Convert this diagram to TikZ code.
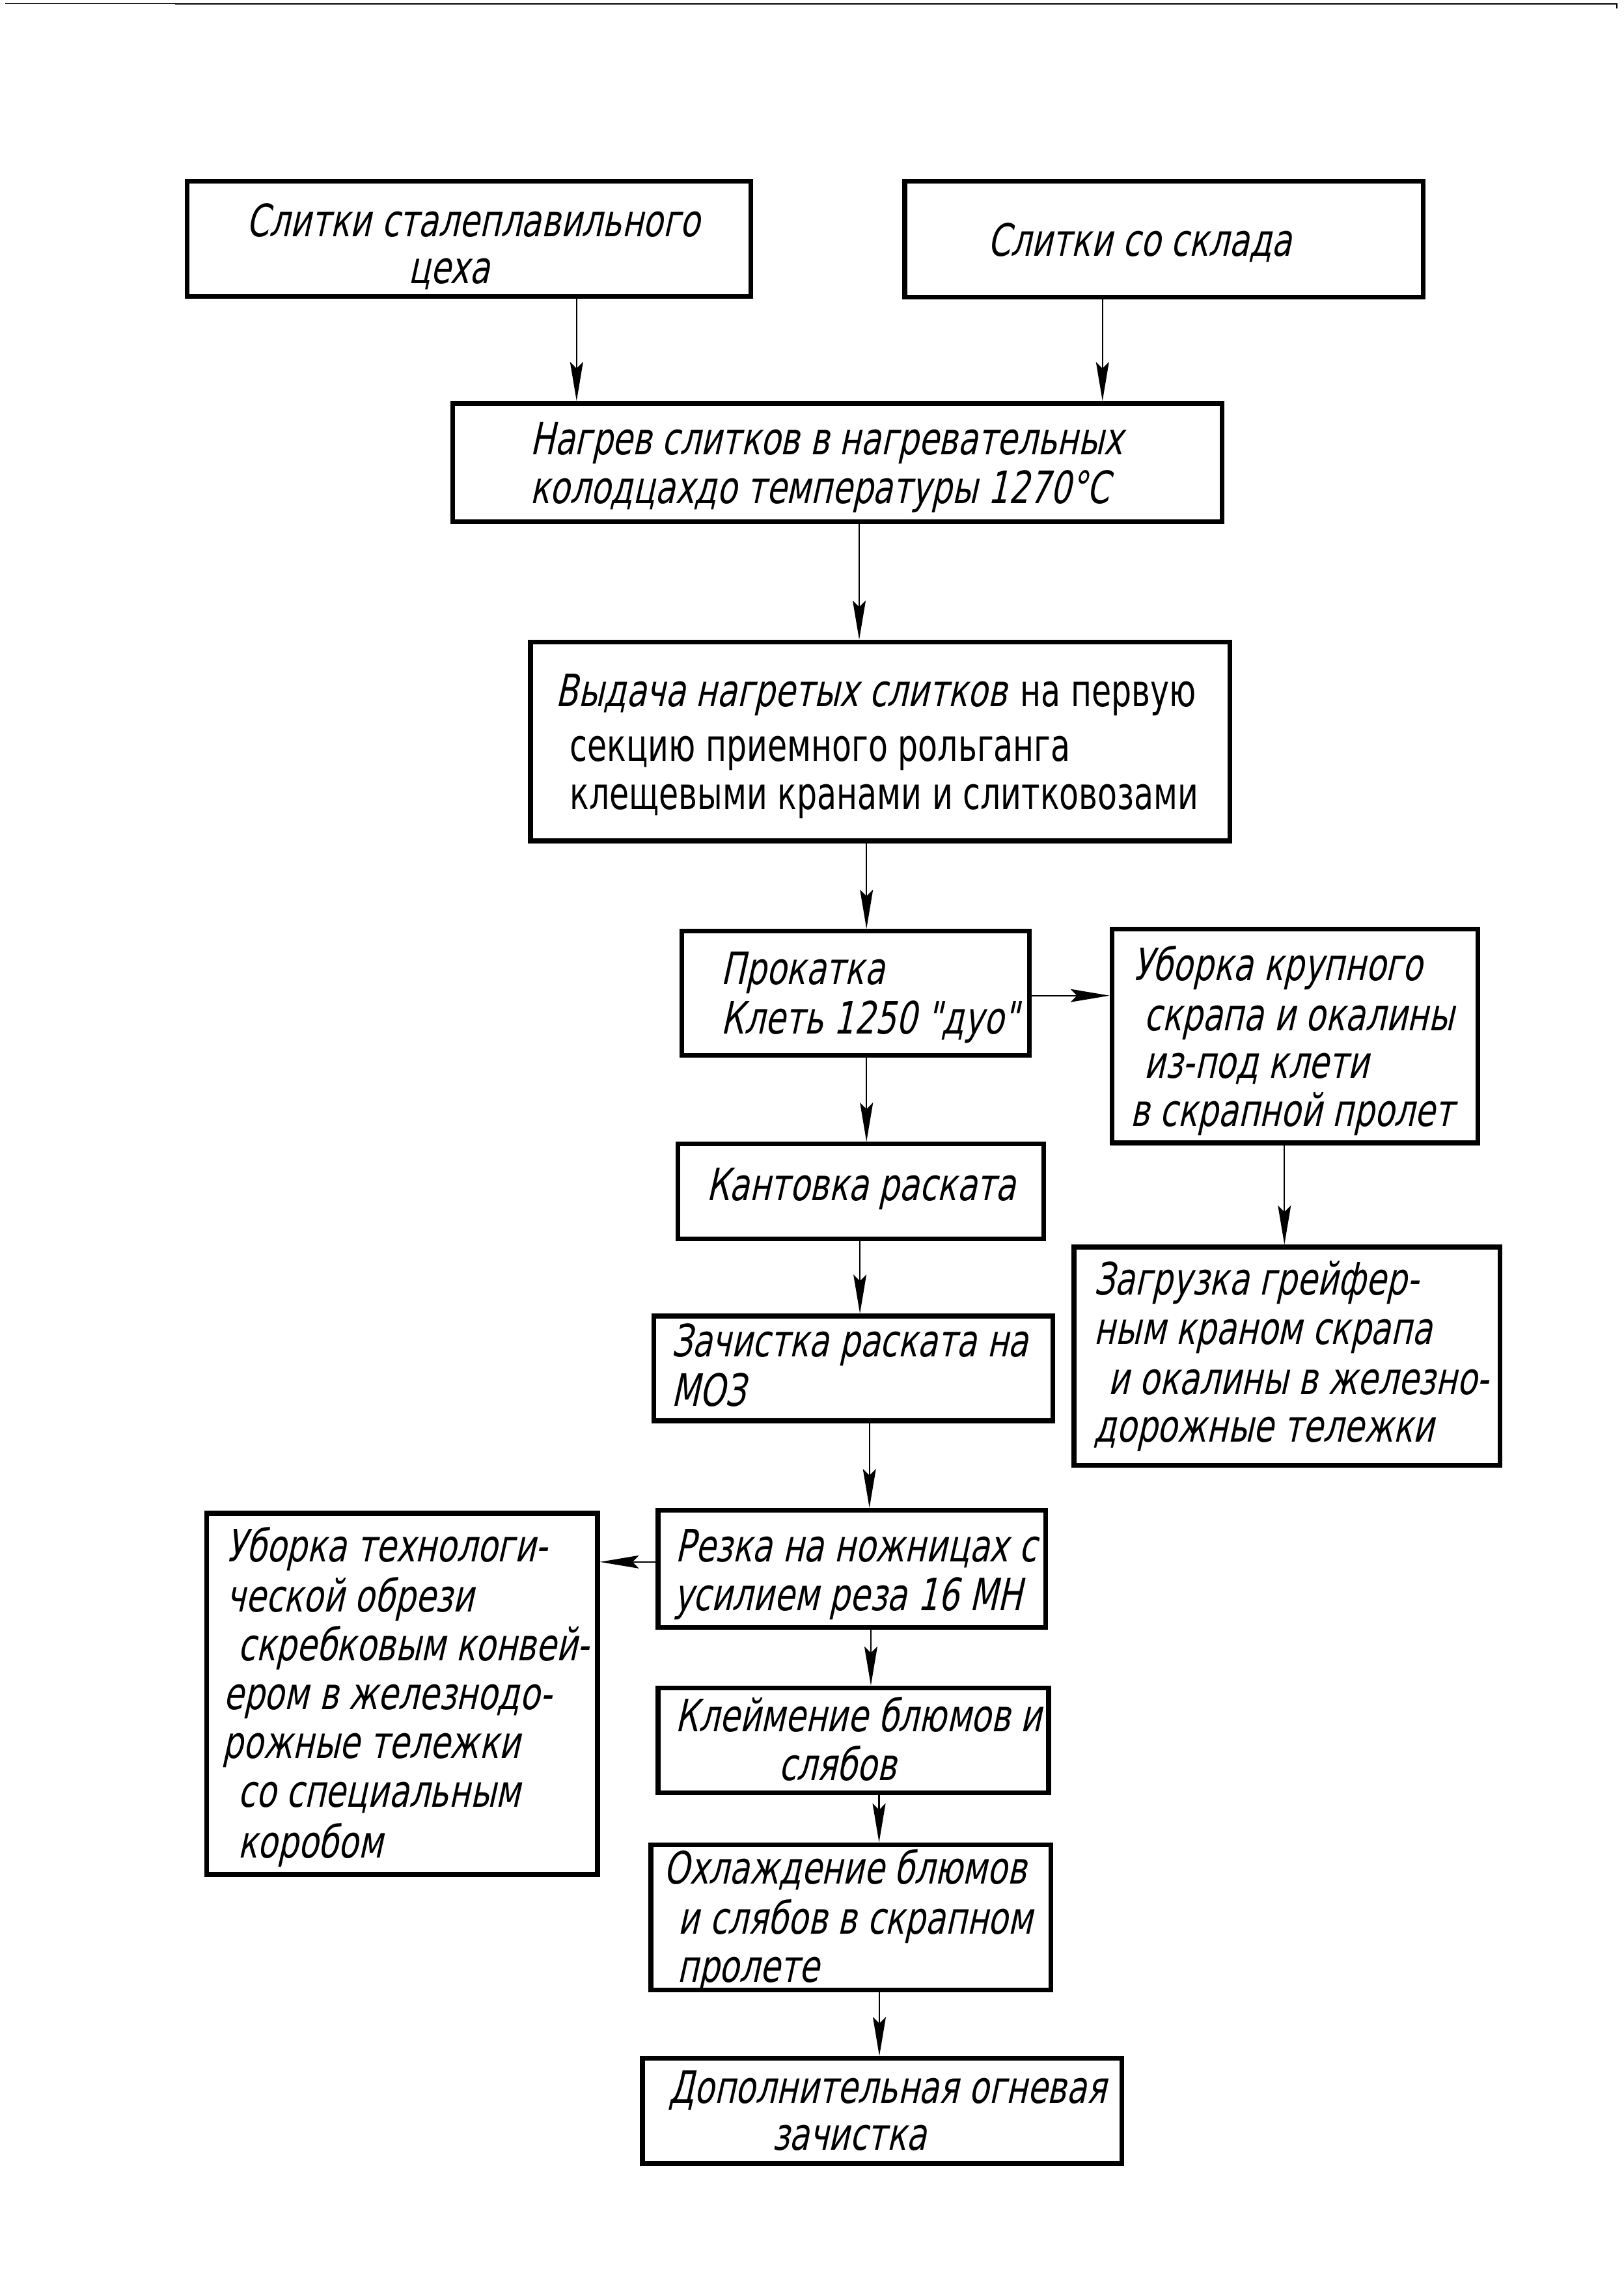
\documentclass[tikz,border=0pt]{standalone}
\usepackage{fontspec}
\newfontfamily\gi{DejaVu Sans}[FakeStretch=0.73,FakeSlant=0.22]
\newfontfamily\gu{DejaVu Sans}[FakeStretch=0.715]
\usetikzlibrary{arrows.meta,fit}
\begin{document}
\begin{tikzpicture}[x=0.02244cm,y=-0.02244cm,
  box/.style={draw,line width=2.1pt,inner sep=0pt},
  txt/.style={anchor=base west,inner sep=0pt,font=\gi\fontsize{19.5}{22}\selectfont},
  txu/.style={anchor=base west,inner sep=0pt,font=\gu\fontsize{19.5}{22}\selectfont},
  arr/.style={line width=0.6pt,-{Stealth[length=6mm,width=2mm,inset=1mm]}}]
\useasboundingbox (0,0) rectangle (1111,1568);
% top rule
\draw[line width=0.3pt] (3.5,2.4) -- (120,2.4);
\draw[line width=0.65pt] (120,2.6) -- (1106.5,2.6) -- (1106.5,6);
% boxes
\node[box,fit={(128.1,124.1)(513.8,203)}] (A) {};
\node[box,fit={(619.2,124.1)(973.9,203.3)}] (B) {};
\node[box,fit={(309.8,276.1)(836.4,357)}] (C) {};
\node[box,fit={(363.1,439.4)(841.8,575.6)}] (D) {};
\node[box,fit={(466.6,637.3)(704.5,722.2)}] (E) {};
\node[box,fit={(761,636)(1011.3,782.2)}] (F) {};
\node[box,fit={(463.9,783)(714.2,847.8)}] (G) {};
\node[box,fit={(735,853.4)(1026.5,1002.8)}] (H) {};
\node[box,fit={(447.5,900.7)(720.6,972.4)}] (I) {};
\node[box,fit={(450.3,1033.7)(715.6,1113.8)}] (J) {};
\node[box,fit={(141.5,1035.7)(408.9,1282.9)}] (K) {};
\node[box,fit={(450.3,1155.2)(717.6,1227)}] (L) {};
\node[box,fit={(445.4,1262.6)(719.3,1361.9)}] (M) {};
\node[box,fit={(439.7,1408.8)(767.8,1480.7)}] (N) {};
% texts
\node[txt] (a1) at (168.5,162) {Слитки сталеплавильного};
\node[txt] (a2) at (279,194) {цеха};
\node[txt] (b1) at (675.6,175.4) {Слитки со склада};
\node[txt] (c1) at (362.5,311) {Нагрев слитков в нагревательных};
\node[txt] (c2) at (362.5,344.6) {колодцахдо температуры 1270°С};
\node[txt] (d1) at (380,483.5) {Выдача нагретых слитков};
\node[txu] (d1b) at (698,483.5) {на первую};
\node[txu] (d2) at (389.7,521) {секцию приемного рольганга};
\node[txu] (d3) at (389.7,554) {клещевыми кранами и слитковозами};
\node[txt] (e1) at (493.2,673.7) {Прокатка};
\node[txt] (e2) at (493.2,707.7) {Клеть 1250 "дуо"};
\node[txt] (f1) at (775,671.2) {Уборка крупного};
\node[txt] (f2) at (782.7,705.3) {скрапа и окалины};
\node[txt] (f3) at (782.7,738) {из-под клети};
\node[txt] (f4) at (773.2,770.8) {в скрапной пролет};
\node[txt] (g1) at (483,821.8) {Кантовка раската};
\node[txt] (i1) at (459,928.7) {Зачистка раската на};
\node[txt] (i2) at (459,962.6) {МОЗ};
\node[txt] (h1) at (748.4,886.2) {Загрузка грейфер-};
\node[txt] (h2) at (748.4,920.2) {ным краном скрапа};
\node[txt] (h3) at (758,954.2) {и окалины в железно-};
\node[txt] (h4) at (748.4,987) {дорожные тележки};
\node[txt] (j1) at (462,1068.9) {Резка на ножницах с};
\node[txt] (j2) at (460.8,1102.4) {усилием реза 16 МН};
\node[txt] (k1) at (154.6,1068.9) {Уборка технологи-};
\node[txt] (k2) at (154.6,1103.2) {ческой обрези};
\node[txt] (k3) at (162.6,1136.7) {скребковым конвей-};
\node[txt] (k4) at (152.6,1170.1) {ером в железнодо-};
\node[txt] (k5) at (152,1203.6) {рожные тележки};
\node[txt] (k6) at (162.6,1237) {со специальным};
\node[txt] (k7) at (162.6,1271.4) {коробом};
\node[txt] (l1) at (462,1185) {Клеймение блюмов и};
\node[txt] (l2) at (532.5,1218.6) {слябов};
\node[txt] (m1) at (454,1289.2) {Охлаждение блюмов};
\node[txt] (m2) at (463.8,1323.6) {и слябов в скрапном};
\node[txt] (m3) at (463.1,1356.4) {пролете};
\node[txt] (n1) at (457.4,1439.3) {Дополнительная огневая};
\node[txt] (n2) at (528,1471.4) {зачистка};
% connector guides
\coordinate (xAC) at (394.6,0);
\coordinate (xBC) at (754.5,0);
\coordinate (xCD) at (588,0);
\coordinate (xDE) at (593,0);
\coordinate (xEG) at (593,0);
\coordinate (xGI) at (588.5,0);
\coordinate (xIJ) at (595,0);
\coordinate (xFH) at (879,0);
\coordinate (xJL) at (596,0);
\coordinate (xLM) at (601.6,0);
\coordinate (xMN) at (601.8,0);
\coordinate (yEF) at (0,681.4);
\coordinate (yJK) at (0,1069);
% connectors
\draw[arr] (A.south -| xAC) -- (C.north -| xAC);
\draw[arr] (B.south -| xBC) -- (C.north -| xBC);
\draw[arr] (C.south -| xCD) -- (D.north -| xCD);
\draw[arr] (D.south -| xDE) -- (E.north -| xDE);
\draw[arr] (E.east |- yEF) -- (F.west |- yEF);
\draw[arr] (E.south -| xEG) -- (G.north -| xEG);
\draw[arr] (F.south -| xFH) -- (H.north -| xFH);
\draw[arr] (G.south -| xGI) -- (I.north -| xGI);
\draw[arr] (I.south -| xIJ) -- (J.north -| xIJ);
\draw[arr] (J.west |- yJK) -- (K.east |- yJK);
\draw[arr] (J.south -| xJL) -- (L.north -| xJL);
\draw[arr] (L.south -| xLM) -- (M.north -| xLM);
\draw[arr] (M.south -| xMN) -- (N.north -| xMN);
\end{tikzpicture}
\end{document}
